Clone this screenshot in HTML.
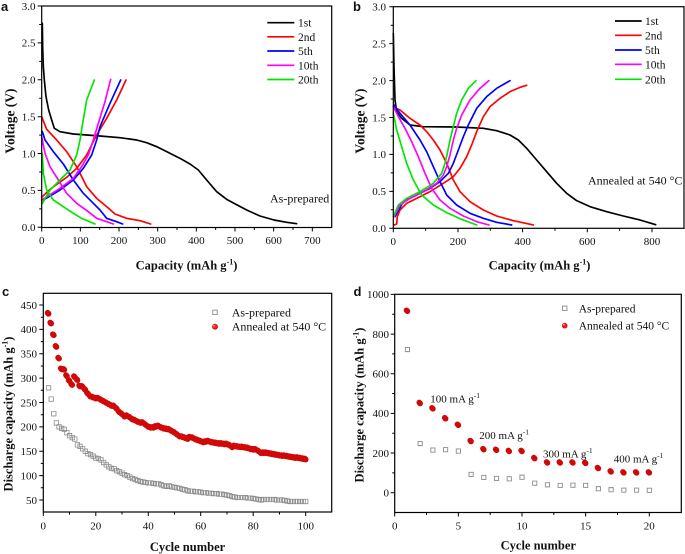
<!DOCTYPE html>
<html>
<head>
<meta charset="utf-8">
<style>
html,body{margin:0;padding:0;background:#fff;}
svg{display:block;}
text{font-family:"Liberation Serif","DejaVu Serif",serif;fill:#111;}
.t{font-size:11px;}
.lab{font-size:12.5px;font-weight:bold;}
.let{font-family:"Liberation Sans","DejaVu Sans",sans-serif;font-weight:bold;font-size:13px;}
</style>
</head>
<body>
<svg width="685" height="554" viewBox="0 0 685 554" xmlns="http://www.w3.org/2000/svg">
<rect width="685" height="554" fill="#fff"/>

<!-- ================= PANEL A ================= -->
<text class="let" x="1" y="11">a</text>
<g fill="none" stroke-width="5" stroke-linejoin="round" stroke-linecap="round" transform="scale(0.33333)">
  <path stroke="#000" d="M127,70 L128,140 L130,200 L133,240 L138,290 L146,330 L155,360 L163,385 L180,395 L220,402 L260,405 L300,408 L360,413 L410,420 L440,428 L470,440 L500,455 L540,475 L570,492 L595,510 L620,540 L650,575 L680,598 L706,612 L740,630 L780,648 L822,660 L860,667 L890,671"/>
  <path stroke="#ff0000" d="M125,350 L140,388 L170,420 L200,455 L230,500 L260,560 L290,595 L320,620 L345,642 L380,655 L420,662 L452,672"/>
  <path stroke="#ff0000" d="M125,592 L150,568 L200,532 L230,505 L260,465 L290,405 L320,355 L350,300 L378,240"/>
  <path stroke="#0000ff" d="M127,395 L135,420 L160,455 L190,492 L220,540 L250,580 L280,610 L300,630 L320,655 L350,665 L368,672"/>
  <path stroke="#0000ff" d="M130,600 L180,570 L220,540 L250,505 L275,465 L290,420 L300,380 L330,310 L362,240"/>
  <path stroke="#ff00ff" d="M125,410 L135,460 L150,500 L175,540 L200,580 L230,610 L265,635 L290,655 L320,665 L340,672"/>
  <path stroke="#ff00ff" d="M125,600 L180,565 L220,535 L245,500 L265,465 L280,420 L295,370 L315,305 L332,238"/>
  <path stroke="#00e600" d="M127,460 L130,520 L140,570 L160,600 L190,620 L220,640 L245,655 L285,672"/>
  <path stroke="#00e600" d="M127,610 L150,570 L180,540 L210,510 L230,465 L240,420 L248,370 L260,300 L283,240"/>
</g>
<rect x="41.7" y="6" width="290" height="221.5" fill="none" stroke="#000" stroke-width="1.2"/>
<path stroke="#000" stroke-width="1" fill="none" d="
M41.7,227.5v4 M80.36,227.5v4 M119.02,227.5v4 M157.68,227.5v4 M196.34,227.5v4 M235,227.5v4 M273.66,227.5v4 M312.32,227.5v4
M61.03,227.5v2.5 M99.69,227.5v2.5 M138.35,227.5v2.5 M177.01,227.5v2.5 M215.67,227.5v2.5 M254.33,227.5v2.5 M292.99,227.5v2.5
M41.7,227.3h-4 M41.7,190.4h-4 M41.7,153.5h-4 M41.7,116.7h-4 M41.7,79.8h-4 M41.7,42.9h-4 M41.7,6h-4
M41.7,208.9h-2.5 M41.7,172h-2.5 M41.7,135.1h-2.5 M41.7,98.2h-2.5 M41.7,61.4h-2.5 M41.7,24.5h-2.5"/>
<g class="t" text-anchor="end">
  <text x="35.5" y="231.1">0.0</text>
  <text x="35.5" y="194.2">0.5</text>
  <text x="35.5" y="157.3">1.0</text>
  <text x="35.5" y="120.5">1.5</text>
  <text x="35.5" y="83.6">2.0</text>
  <text x="35.5" y="46.7">2.5</text>
  <text x="35.5" y="9.8">3.0</text>
</g>
<g class="t" text-anchor="middle">
  <text x="41.7" y="244">0</text>
  <text x="80.36" y="244">100</text>
  <text x="119.02" y="244">200</text>
  <text x="157.68" y="244">300</text>
  <text x="196.34" y="244">400</text>
  <text x="235" y="244">500</text>
  <text x="273.66" y="244">600</text>
  <text x="312.32" y="244">700</text>
</g>
<g stroke-width="1.7">
  <line x1="267.3" y1="22.7" x2="294.3" y2="22.7" stroke="#000"/>
  <line x1="267.3" y1="36.8" x2="294.3" y2="36.8" stroke="#ff0000"/>
  <line x1="267.3" y1="51" x2="294.3" y2="51" stroke="#0000ff"/>
  <line x1="267.3" y1="65.3" x2="294.3" y2="65.3" stroke="#ff00ff"/>
  <line x1="267.3" y1="79.5" x2="294.3" y2="79.5" stroke="#00e600"/>
</g>
<g style="font-size:11.5px">
  <text x="298" y="26.7">1st</text>
  <text x="298" y="40.8">2nd</text>
  <text x="298" y="55">5th</text>
  <text x="298" y="69.3">10th</text>
  <text x="298" y="83.5">20th</text>
</g>
<text x="270" y="202.3" style="font-size:12px">As-prepared</text>
<text class="lab" x="186.5" y="269.5" text-anchor="middle">Capacity (mAh g<tspan dy="-5" font-size="8">-1</tspan><tspan dy="5">)</tspan></text>
<text class="lab" style="font-size:13.5px" text-anchor="middle" transform="translate(14.5,121) rotate(-90)">Voltage (V)</text>

<!-- ================= PANEL B ================= -->
<text class="let" x="353" y="11">b</text>
<g fill="none" stroke-width="5" stroke-linejoin="round" stroke-linecap="round" transform="translate(390,0) scale(0.33333)">
  <path stroke="#000" d="M10,100 L12,200 L15,300 L20,335 L35,355 L60,375 L100,380 L200,381 L280,385 L320,392 L360,405 L385,420 L410,445 L440,480 L470,515 L500,550 L530,580 L560,602 L600,620 L650,635 L700,648 L750,660 L797,674"/>
  <path stroke="#ff0000" d="M12,322 L30,330 L60,355 L90,375 L110,395 L130,420 L150,450 L170,490 L190,540 L210,575 L240,605 L280,630 L320,648 L370,662 L430,675"/>
  <path stroke="#ff0000" d="M12,675 L20,672 L22,650 L30,630 L50,610 L80,595 L120,575 L160,550 L190,530 L210,505 L230,470 L245,435 L260,395 L280,350 L300,320 L330,295 L360,275 L390,262 L410,256"/>
  <path stroke="#0000ff" d="M12,315 L30,340 L60,375 L90,420 L110,455 L130,500 L150,545 L170,585 L200,615 L240,640 L280,655 L320,667 L365,675"/>
  <path stroke="#0000ff" d="M15,650 L40,605 L80,585 L120,565 L150,545 L175,520 L190,490 L205,450 L220,410 L235,375 L260,325 L290,290 L320,265 L360,242"/>
  <path stroke="#ff00ff" d="M10,320 L25,350 L45,385 L65,425 L85,470 L105,520 L125,565 L150,600 L180,625 L220,648 L260,665 L297,675"/>
  <path stroke="#ff00ff" d="M12,650 L30,615 L60,595 L100,575 L140,550 L160,525 L170,500 L180,465 L190,420 L200,385 L215,345 L240,300 L270,265 L297,242"/>
  <path stroke="#00e600" d="M10,340 L20,390 L35,440 L50,490 L70,540 L95,585 L130,615 L170,638 L215,658 L260,675"/>
  <path stroke="#00e600" d="M10,650 L25,615 L50,595 L90,575 L130,550 L155,520 L165,490 L172,460 L180,420 L190,380 L200,340 L215,300 L235,265 L258,242"/>
</g>
<rect x="393.3" y="6.7" width="290.7" height="221.6" fill="none" stroke="#000" stroke-width="1.2"/>
<path stroke="#000" stroke-width="1" fill="none" d="
M393.3,228.3v4 M458,228.3v4 M522.6,228.3v4 M587.3,228.3v4 M652,228.3v4
M425.6,228.3v2.5 M490.3,228.3v2.5 M555,228.3v2.5 M619.6,228.3v2.5
M393.3,228.3h-4 M393.3,191.4h-4 M393.3,154.4h-4 M393.3,117.5h-4 M393.3,80.6h-4 M393.3,43.6h-4 M393.3,6.7h-4
M393.3,209.8h-2.5 M393.3,172.9h-2.5 M393.3,136h-2.5 M393.3,99h-2.5 M393.3,62.1h-2.5 M393.3,25.2h-2.5"/>
<g class="t" text-anchor="end">
  <text x="386" y="232.1">0.0</text>
  <text x="386" y="195.2">0.5</text>
  <text x="386" y="158.2">1.0</text>
  <text x="386" y="121.3">1.5</text>
  <text x="386" y="84.4">2.0</text>
  <text x="386" y="47.4">2.5</text>
  <text x="386" y="10.5">3.0</text>
</g>
<g class="t" text-anchor="middle">
  <text x="393.3" y="245">0</text>
  <text x="458" y="245">200</text>
  <text x="522.6" y="245">400</text>
  <text x="587.3" y="245">600</text>
  <text x="652" y="245">800</text>
</g>
<g stroke-width="1.7">
  <line x1="615" y1="21" x2="641.7" y2="21" stroke="#000"/>
  <line x1="615" y1="35.3" x2="641.7" y2="35.3" stroke="#ff0000"/>
  <line x1="615" y1="50" x2="641.7" y2="50" stroke="#0000ff"/>
  <line x1="615" y1="64.3" x2="641.7" y2="64.3" stroke="#ff00ff"/>
  <line x1="615" y1="79.3" x2="641.7" y2="79.3" stroke="#00e600"/>
</g>
<g style="font-size:11.5px">
  <text x="645" y="25">1st</text>
  <text x="645" y="39.3">2nd</text>
  <text x="645" y="54">5th</text>
  <text x="645" y="68.3">10th</text>
  <text x="645" y="83.3">20th</text>
</g>
<text x="588" y="184.7" style="font-size:12px">Annealed at 540 &#176;C</text>
<text class="lab" x="539.5" y="269.5" text-anchor="middle">Capacity (mAh g<tspan dy="-5" font-size="8">-1</tspan><tspan dy="5">)</tspan></text>
<text class="lab" style="font-size:13.5px" text-anchor="middle" transform="translate(364.5,121) rotate(-90)">Voltage (V)</text>

<!-- ================= PANEL C ================= -->
<text class="let" x="2" y="296">c</text>
<rect x="43.3" y="293.3" width="288.4" height="218.7" fill="none" stroke="#000" stroke-width="1.2"/>
<path stroke="#000" stroke-width="1" fill="none" d="
M43.3,512v4 M95.8,512v4 M148.3,512v4 M200.7,512v4 M253.2,512v4 M305.7,512v4
M69.5,512v2.5 M122,512v2.5 M174.5,512v2.5 M227,512v2.5 M279.5,512v2.5
M43.3,500h-4 M43.3,475.6h-4 M43.3,451.3h-4 M43.3,426.9h-4 M43.3,402.5h-4 M43.3,378.1h-4 M43.3,353.8h-4 M43.3,329.4h-4 M43.3,305h-4
M43.3,487.8h-2.5 M43.3,463.4h-2.5 M43.3,439.1h-2.5 M43.3,414.7h-2.5 M43.3,390.3h-2.5 M43.3,366h-2.5 M43.3,341.6h-2.5 M43.3,317.2h-2.5"/>
<g class="t" text-anchor="end">
  <text x="37" y="503.8">50</text>
  <text x="37" y="479.4">100</text>
  <text x="37" y="455.1">150</text>
  <text x="37" y="430.7">200</text>
  <text x="37" y="406.3">250</text>
  <text x="37" y="381.9">300</text>
  <text x="37" y="357.6">350</text>
  <text x="37" y="333.2">400</text>
  <text x="37" y="308.8">450</text>
</g>
<g class="t" text-anchor="middle">
  <text x="43.3" y="529.5">0</text>
  <text x="95.8" y="529.5">20</text>
  <text x="148.3" y="529.5">40</text>
  <text x="200.7" y="529.5">60</text>
  <text x="253.2" y="529.5">80</text>
  <text x="305.7" y="529.5">100</text>
</g>
<!-- gray squares -->
<g transform="matrix(2.624 0 0 -0.4875 43.3 524.375)">
<path fill="none" stroke="#8c8c8c" stroke-width="0.8" vector-effect="non-scaling-stroke" d="M2 280m-.838-4.515h1.677v9.03h-1.677zM3 257m-.838-4.515h1.677v9.03h-1.677zM4 227m-.838-4.515h1.677v9.03h-1.677zM5 208m-.838-4.515h1.677v9.03h-1.677zM6 200m-.838-4.515h1.677v9.03h-1.677zM7 197m-.838-4.515h1.677v9.03h-1.677zM8 195m-.838-4.515h1.677v9.03h-1.677zM9 188m-.838-4.515h1.677v9.03h-1.677zM10 182m-.838-4.515h1.677v9.03h-1.677zM11 178m-.838-4.515h1.677v9.03h-1.677zM12 175m-.838-4.515h1.677v9.03h-1.677zM13 163m-.838-4.515h1.677v9.03h-1.677zM14 160m-.838-4.515h1.677v9.03h-1.677zM15 155m-.838-4.515h1.677v9.03h-1.677zM16 150m-.838-4.515h1.677v9.03h-1.677zM17 145m-.838-4.515h1.677v9.03h-1.677zM18 143m-.838-4.515h1.677v9.03h-1.677zM19 140m-.838-4.515h1.677v9.03h-1.677zM20 136m-.838-4.515h1.677v9.03h-1.677zM21 135m-.838-4.515h1.677v9.03h-1.677zM22 132m-.838-4.515h1.677v9.03h-1.677zM23 127m-.838-4.515h1.677v9.03h-1.677zM24 122m-.838-4.515h1.677v9.03h-1.677zM25 118m-.838-4.515h1.677v9.03h-1.677zM26 115m-.838-4.515h1.677v9.03h-1.677zM27 114m-.838-4.515h1.677v9.03h-1.677zM28 110m-.838-4.515h1.677v9.03h-1.677zM29 108m-.838-4.515h1.677v9.03h-1.677zM30 105m-.838-4.515h1.677v9.03h-1.677zM31 102m-.838-4.515h1.677v9.03h-1.677zM32 100m-.838-4.515h1.677v9.03h-1.677zM33 97m-.838-4.515h1.677v9.03h-1.677zM34 94m-.838-4.515h1.677v9.03h-1.677zM35 92m-.838-4.515h1.677v9.03h-1.677zM36 90m-.838-4.515h1.677v9.03h-1.677zM37 88m-.838-4.515h1.677v9.03h-1.677zM38 87m-.838-4.515h1.677v9.03h-1.677zM39 86m-.838-4.515h1.677v9.03h-1.677zM40 85m-.838-4.515h1.677v9.03h-1.677zM41 85m-.838-4.515h1.677v9.03h-1.677zM42 84m-.838-4.515h1.677v9.03h-1.677zM43 83m-.838-4.515h1.677v9.03h-1.677zM44 83m-.838-4.515h1.677v9.03h-1.677zM45 81m-.838-4.515h1.677v9.03h-1.677zM46 79m-.838-4.515h1.677v9.03h-1.677zM47 78m-.838-4.515h1.677v9.03h-1.677zM48 79m-.838-4.515h1.677v9.03h-1.677zM49 77m-.838-4.515h1.677v9.03h-1.677zM50 76m-.838-4.515h1.677v9.03h-1.677zM51 75m-.838-4.515h1.677v9.03h-1.677zM52 74m-.838-4.515h1.677v9.03h-1.677zM53 72m-.838-4.515h1.677v9.03h-1.677zM54 71m-.838-4.515h1.677v9.03h-1.677zM55 69m-.838-4.515h1.677v9.03h-1.677zM56 68m-.838-4.515h1.677v9.03h-1.677zM57 68m-.838-4.515h1.677v9.03h-1.677zM58 67m-.838-4.515h1.677v9.03h-1.677zM59 67m-.838-4.515h1.677v9.03h-1.677zM60 66m-.838-4.515h1.677v9.03h-1.677zM61 65m-.838-4.515h1.677v9.03h-1.677zM62 65m-.838-4.515h1.677v9.03h-1.677zM63 64m-.838-4.515h1.677v9.03h-1.677zM64 64m-.838-4.515h1.677v9.03h-1.677zM65 63m-.838-4.515h1.677v9.03h-1.677zM66 63m-.838-4.515h1.677v9.03h-1.677zM67 62m-.838-4.515h1.677v9.03h-1.677zM68 62m-.838-4.515h1.677v9.03h-1.677zM69 61m-.838-4.515h1.677v9.03h-1.677zM70 60m-.838-4.515h1.677v9.03h-1.677zM71 59m-.838-4.515h1.677v9.03h-1.677zM72 57m-.838-4.515h1.677v9.03h-1.677zM73 56m-.838-4.515h1.677v9.03h-1.677zM74 55m-.838-4.515h1.677v9.03h-1.677zM75 55m-.838-4.515h1.677v9.03h-1.677zM76 55m-.838-4.515h1.677v9.03h-1.677zM77 55m-.838-4.515h1.677v9.03h-1.677zM78 54m-.838-4.515h1.677v9.03h-1.677zM79 54m-.838-4.515h1.677v9.03h-1.677zM80 53m-.838-4.515h1.677v9.03h-1.677zM81 52m-.838-4.515h1.677v9.03h-1.677zM82 51m-.838-4.515h1.677v9.03h-1.677zM83 50m-.838-4.515h1.677v9.03h-1.677zM84 51m-.838-4.515h1.677v9.03h-1.677zM85 51m-.838-4.515h1.677v9.03h-1.677zM86 51m-.838-4.515h1.677v9.03h-1.677zM87 51m-.838-4.515h1.677v9.03h-1.677zM88 51m-.838-4.515h1.677v9.03h-1.677zM89 50m-.838-4.515h1.677v9.03h-1.677zM90 50m-.838-4.515h1.677v9.03h-1.677zM91 50m-.838-4.515h1.677v9.03h-1.677zM92 49m-.838-4.515h1.677v9.03h-1.677zM93 48m-.838-4.515h1.677v9.03h-1.677zM94 47m-.838-4.515h1.677v9.03h-1.677zM95 47m-.838-4.515h1.677v9.03h-1.677zM96 47m-.838-4.515h1.677v9.03h-1.677zM97 47m-.838-4.515h1.677v9.03h-1.677zM98 47m-.838-4.515h1.677v9.03h-1.677zM99 47m-.838-4.515h1.677v9.03h-1.677zM100 47m-.838-4.515h1.677v9.03h-1.677z"/>
</g>
<!-- red balls c -->
<g transform="matrix(2.624 0 0 -0.4875 43.3 524.375)">
<path id="redc" fill="none" stroke="#d00808" stroke-width="5.8" stroke-linecap="round" vector-effect="non-scaling-stroke" d="M2 432h0M3 412h0M4 388h0M5 364h0M6 340h0M7 318h0M8 317h0M9 304h0M10 294h0M11 286h0M12 302h0M13 296h0M14 283h0M15 282h0M16 276h0M17 268h0M18 262h0M19 260h0M20 258h0M21 258h0M22 255h0M23 252h0M24 249h0M25 246h0M26 243h0M27 242h0M28 237h0M29 230h0M30 226h0M31 221h0M32 222h0M33 219h0M34 215h0M35 213h0M36 210h0M37 208h0M38 208h0M39 204h0M40 200h0M41 198h0M42 198h0M43 200h0M44 201h0M45 198h0M46 196h0M47 195h0M48 194h0M49 191h0M50 188h0M51 184h0M52 180h0M53 179h0M54 177h0M55 175h0M56 178h0M57 177h0M58 174h0M59 172h0M60 170h0M61 168h0M62 169h0M63 170h0M64 168h0M65 167h0M66 166h0M67 165h0M68 165h0M69 164h0M70 164h0M71 162h0M72 158h0M73 160h0M74 159h0M75 158h0M76 158h0M77 157h0M78 156h0M79 154h0M80 153h0M81 153h0M82 150h0M83 146h0M84 146h0M85 146h0M86 145h0M87 144h0M88 143h0M89 142h0M90 141h0M91 140h0M92 140h0M93 139h0M94 138h0M95 137h0M96 136h0M97 136h0M98 135h0M99 134h0M100 133h0"/>
</g>
<g transform="translate(-0.3,-0.3)"><g transform="matrix(2.624 0 0 -0.4875 43.3 524.375)">
<use href="#redc" stroke="#ff2020" stroke-width="4.4"/>
</g></g>
<g transform="translate(-0.9,-1)"><g transform="matrix(2.624 0 0 -0.4875 43.3 524.375)">
<use href="#redc" stroke="#ffc8c8" stroke-width="1.4"/>
</g></g>
<!-- legend c -->
<rect x="212.8" y="310.1" width="4.4" height="4.4" fill="#fff" stroke="#8c8c8c" stroke-width="0.9"/>
<circle cx="215" cy="326.7" r="2.9" fill="#d00808"/>
<circle cx="214.7" cy="326.4" r="2.2" fill="#ff2020"/>
<circle cx="214.1" cy="325.7" r="0.7" fill="#ffc8c8"/>
<text x="231.7" y="316.3" style="font-size:12px">As-prepared</text>
<text x="231.7" y="330.7" style="font-size:12px">Annealed at 540 &#176;C</text>
<text class="lab" x="187.5" y="551" text-anchor="middle">Cycle number</text>
<text class="lab" text-anchor="middle" transform="translate(12.5,414) rotate(-90)">Discharge capacity (mAh g<tspan dy="-5" font-size="8">-1</tspan><tspan dy="5">)</tspan></text>

<!-- ================= PANEL D ================= -->
<text class="let" x="353.5" y="296">d</text>
<rect x="394.7" y="294.3" width="286.6" height="218.2" fill="none" stroke="#000" stroke-width="1.2"/>
<path stroke="#000" stroke-width="1" fill="none" d="
M394.7,512.5v4 M458.35,512.5v4 M522,512.5v4 M585.65,512.5v4 M649.3,512.5v4
M426.5,512.5v2.5 M490.2,512.5v2.5 M553.8,512.5v2.5 M617.5,512.5v2.5
M394.7,492.7h-4 M394.7,453h-4 M394.7,413.4h-4 M394.7,373.7h-4 M394.7,334.1h-4 M394.7,294.4h-4
M394.7,472.9h-2.5 M394.7,433.2h-2.5 M394.7,393.5h-2.5 M394.7,353.9h-2.5 M394.7,314.2h-2.5"/>
<g class="t" text-anchor="end">
  <text x="389" y="496.5">0</text>
  <text x="389" y="456.8">200</text>
  <text x="389" y="417.2">400</text>
  <text x="389" y="377.5">600</text>
  <text x="389" y="337.9">800</text>
  <text x="389" y="298.2">1000</text>
</g>
<g class="t" text-anchor="middle">
  <text x="394.7" y="529.5">0</text>
  <text x="458.35" y="529.5">5</text>
  <text x="522" y="529.5">10</text>
  <text x="585.65" y="529.5">15</text>
  <text x="649.3" y="529.5">20</text>
</g>
<g transform="matrix(12.73 0 0 -0.1983 394.7 492.7)">
<path fill="#fff" stroke="#8c8c8c" stroke-width="0.9" vector-effect="non-scaling-stroke" d="M1 722m-.165-10.59h.33v21.18h-.33zM2 248m-.165-10.59h.33v21.18h-.33zM3 215m-.165-10.59h.33v21.18h-.33zM4 217m-.165-10.59h.33v21.18h-.33zM5 210m-.165-10.59h.33v21.18h-.33zM6 92m-.165-10.59h.33v21.18h-.33zM7 77m-.165-10.59h.33v21.18h-.33zM8 72m-.165-10.59h.33v21.18h-.33zM9 70m-.165-10.59h.33v21.18h-.33zM10 78m-.165-10.59h.33v21.18h-.33zM11 48m-.165-10.59h.33v21.18h-.33zM12 40m-.165-10.59h.33v21.18h-.33zM13 37m-.165-10.59h.33v21.18h-.33zM14 38m-.165-10.59h.33v21.18h-.33zM15 37m-.165-10.59h.33v21.18h-.33zM16 20m-.165-10.59h.33v21.18h-.33zM17 15m-.165-10.59h.33v21.18h-.33zM18 13m-.165-10.59h.33v21.18h-.33zM19 13m-.165-10.59h.33v21.18h-.33zM20 12m-.165-10.59h.33v21.18h-.33z"/>
<path id="redd" fill="none" stroke="#d00808" stroke-width="5.6" stroke-linecap="round" vector-effect="non-scaling-stroke" d="M1 915h0M2 450h0M3 423h0M4 373h0M5 340h0M6 258h0M7 217h0M8 214h0M9 208h0M10 208h0M11 172h0M12 150h0M13 150h0M14 150h0M15 148h0M16 122h0M17 105h0M18 100h0M19 100h0M20 100h0"/>
</g>
<g transform="translate(-0.3,-0.3)"><g transform="matrix(12.73 0 0 -0.1983 394.7 492.7)">
<use href="#redd" stroke="#ff2020" stroke-width="4.2"/>
</g></g>
<g transform="translate(-0.9,-1)"><g transform="matrix(12.73 0 0 -0.1983 394.7 492.7)">
<use href="#redd" stroke="#ffc8c8" stroke-width="1.4"/>
</g></g>
<!-- legend d -->
<rect x="562.5" y="306.1" width="4.4" height="4.4" fill="#fff" stroke="#8c8c8c" stroke-width="0.9"/>
<circle cx="564.7" cy="325.7" r="2.8" fill="#d00808"/>
<circle cx="564.4" cy="325.4" r="2.1" fill="#ff2020"/>
<circle cx="563.8" cy="324.7" r="0.7" fill="#ffc8c8"/>
<text x="578.7" y="312.3" style="font-size:11.5px">As-prepared</text>
<text x="578.7" y="329.7" style="font-size:11.5px">Annealed at 540 &#176;C</text>
<g style="font-size:11px">
  <text x="430.3" y="402.5">100 mA g<tspan dy="-4.5" font-size="7.5">-1</tspan></text>
  <text x="479.3" y="439">200 mA g<tspan dy="-4.5" font-size="7.5">-1</tspan></text>
  <text x="543" y="457.3">300 mA g<tspan dy="-4.5" font-size="7.5">-1</tspan></text>
  <text x="613.7" y="462.3">400 mA g<tspan dy="-4.5" font-size="7.5">-1</tspan></text>
</g>
<text class="lab" x="538.3" y="549.5" text-anchor="middle">Cycle number</text>
<text class="lab" text-anchor="middle" transform="translate(363.5,405) rotate(-90)">Discharge capacity (mAh g<tspan dy="-5" font-size="8">-1</tspan><tspan dy="5">)</tspan></text>
</svg>
</body>
</html>
